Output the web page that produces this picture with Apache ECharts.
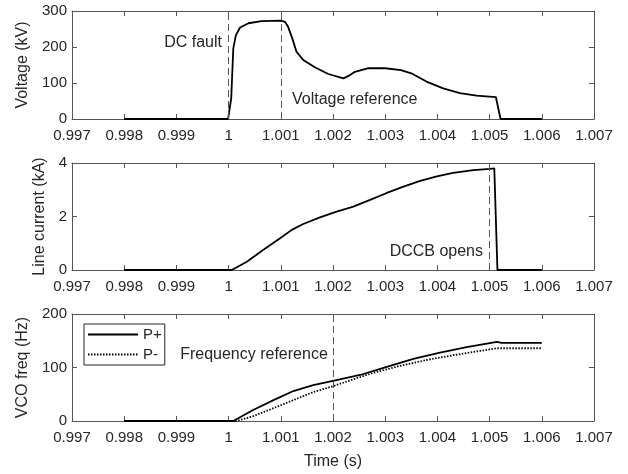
<!DOCTYPE html>
<html>
<head>
<meta charset="utf-8">
<script src="https://cdn.jsdelivr.net/npm/echarts@6/dist/echarts.min.js"></script>
<style>
  html, body { margin: 0; padding: 0; background: #fff; }
  #chart { width: 628px; height: 474px; }
</style>
</head>
<body>
<div id="chart"></div>
<script>
// values
const voltageT = [0.998, 0.99999, 1.00005, 1.00009, 1.00014, 1.00022, 1.00038, 1.00063, 1.001, 1.00108,
  1.00114, 1.00122, 1.0013, 1.00143, 1.00166, 1.00191, 1.0022, 1.00229, 1.00242, 1.00268, 1.003, 1.0033,
  1.0035, 1.00379, 1.00411, 1.00443, 1.00475, 1.00512, 1.00515, 1.00521, 1.006];
const voltageKV = [0, 0, 57, 196, 233, 254, 266, 272, 273, 270,
  256, 224, 187, 164, 143, 125, 113, 119, 131, 141, 141, 136,
  127, 104, 85, 72, 65, 61, 63, 0, 0];

const currentT = [0.998, 1.00006, 1.00035, 1.00066, 1.00098, 1.00121, 1.00143, 1.00175, 1.00207, 1.00239,
  1.00271, 1.00303, 1.00335, 1.00367, 1.00399, 1.0043, 1.00469, 1.00501, 1.00509, 1.00515, 1.006];
const currentKA = [0, 0, 0.31, 0.75, 1.18, 1.5, 1.72, 1.97, 2.18, 2.37,
  2.62, 2.88, 3.12, 3.33, 3.5, 3.63, 3.73, 3.78, 3.8, 0, 0];

const pPlusT = [0.998, 1.00009, 1.00047, 1.00086, 1.00124, 1.00162, 1.002, 1.00252, 1.00303, 1.00354,
  1.00405, 1.00456, 1.00514, 1.00523, 1.006];
const pPlusHz = [0, 0, 20.6, 39, 56, 67, 75, 86, 101, 116, 128, 138, 148, 146, 146];

const pMinusT = [0.998, 1.00015, 1.00047, 1.00086, 1.00124, 1.00162, 1.002, 1.00239, 1.00277, 1.00328,
  1.00379, 1.0043, 1.00482, 1.00514, 1.006];
const pMinusHz = [0, 0, 9, 24, 39, 54, 65, 78, 90, 103, 114, 123, 131, 136, 136];

const voltageRefs = [1.0, 1.001];
const currentRefs = [1.005];
const freqRefs = [1.002];

const xMin = 0.997, xMax = 1.007, xStep = 0.001;

const ink = "#262626";
const frame = "#555";
const font = "Liberation Sans";

const zip = (xs, ys) => xs.map((x, i) => [x, ys[i]]);

const grids = [
  { left: 72, right: 34, top: 11, height: 108 },
  { left: 72, right: 34, top: 163, height: 107 },
  { left: 72, right: 34, top: 314, height: 107 },
];

function xAxes(gridIndex, withName) {
  const base = {
    type: "value", gridIndex, min: xMin, max: xMax, interval: xStep,
    axisLine: { show: true, onZero: false, lineStyle: { color: frame, width: 1 } },
    axisTick: { show: true, inside: true, length: 5, lineStyle: { color: frame } },
    splitLine: { show: false },
  };
  return [
    {
      ...base, position: "bottom",
      axisLabel: {
        color: ink, fontFamily: font, fontSize: 15, margin: 9,
        formatter: (v) => String(+v.toFixed(3)),
      },
      name: withName ? "Time (s)" : "",
      nameLocation: "middle", nameGap: 33,
      nameTextStyle: { color: ink, fontFamily: font, fontSize: 16 },
    },
    { ...base, position: "top", axisLabel: { show: false } },
  ];
}

function yAxes(gridIndex, max, interval, name, gap) {
  const base = {
    type: "value", gridIndex, min: 0, max, interval,
    axisLine: { show: true, onZero: false, lineStyle: { color: frame, width: 1 } },
    axisTick: { show: true, inside: true, length: 5, lineStyle: { color: frame } },
    splitLine: { show: false },
  };
  return [
    {
      ...base, position: "left",
      axisLabel: { color: ink, fontFamily: font, fontSize: 15, margin: 5 },
      name, nameLocation: "middle", nameGap: gap,
      nameTextStyle: { color: ink, fontFamily: font, fontSize: 16 },
    },
    { ...base, position: "right", axisLabel: { show: false } },
  ];
}

// vertical dashed reference lines, drawn from the bottom to the top of the axis
function refLines(values, yMax) {
  return {
    silent: true,
    symbol: "none",
    label: { show: false },
    lineStyle: { color: "#555", width: 1, type: [7, 4] },
    data: values.map((v) => [{ coord: [v, 0] }, { coord: [v, yMax] }]),
  };
}

function note(text, coord, side) {
  return {
    coord,
    symbolSize: 0,
    itemStyle: { color: "transparent" },
    label: {
      show: true, formatter: text, position: side, distance: 0,
      color: ink, fontFamily: font, fontSize: 16,
    },
  };
}

const lineBase = { type: "line", showSymbol: false, symbol: "none", silent: true, animation: false };

const chart = echarts.init(document.getElementById("chart"));
chart.setOption({
  backgroundColor: "#fff",
  animation: false,
  grid: grids,
  xAxis: [...xAxes(0, false), ...xAxes(1, false), ...xAxes(2, true)],
  yAxis: [
    ...yAxes(0, 300, 100, "Voltage (kV)", 36),
    ...yAxes(1, 4, 2, "Line current (kA)", 17),
    ...yAxes(2, 200, 100, "VCO freq (Hz)", 36),
  ],
  legend: {
    left: 84, top: 324, orient: "vertical",
    data: ["P+", "P-"],
    itemWidth: 50, itemHeight: 14, itemGap: 5,
    padding: [3, 3, 3, 3],
    borderColor: ink, borderWidth: 1,
    backgroundColor: "#fff",
    itemStyle: { opacity: 0 },
    textStyle: { color: ink, fontFamily: font, fontSize: 15 },
  },
  series: [
    {
      ...lineBase, name: "Voltage", xAxisIndex: 0, yAxisIndex: 0,
      data: zip(voltageT, voltageKV),
      lineStyle: { color: "#000", width: 1.8 },
      markLine: refLines(voltageRefs, 300),
      markPoint: {
        silent: true,
        data: [
          note("DC fault", [0.999874, 211], "left"),
          note("Voltage reference", [1.001215, 53], "right"),
        ],
      },
    },
    {
      ...lineBase, name: "Current", xAxisIndex: 2, yAxisIndex: 2,
      data: zip(currentT, currentKA),
      lineStyle: { color: "#000", width: 1.8 },
      markLine: refLines(currentRefs, 4),
      markPoint: {
        silent: true,
        data: [note("DCCB opens", [1.004874, 0.7], "left")],
      },
    },
    {
      ...lineBase, name: "P+", xAxisIndex: 4, yAxisIndex: 4,
      data: zip(pPlusT, pPlusHz),
      itemStyle: { color: "#000" },
      lineStyle: { color: "#000", width: 1.8 },
      markLine: refLines(freqRefs, 200),
      markPoint: {
        silent: true,
        data: [note("Frequency reference", [1.0019, 125], "left")],
      },
    },
    {
      ...lineBase, name: "P-", xAxisIndex: 4, yAxisIndex: 4,
      data: zip(pMinusT, pMinusHz),
      itemStyle: { color: "#000" },
      lineStyle: { color: "#000", width: 1.8, type: [1.5, 1.5] },
    },
  ],
});
</script>
</body>
</html>
